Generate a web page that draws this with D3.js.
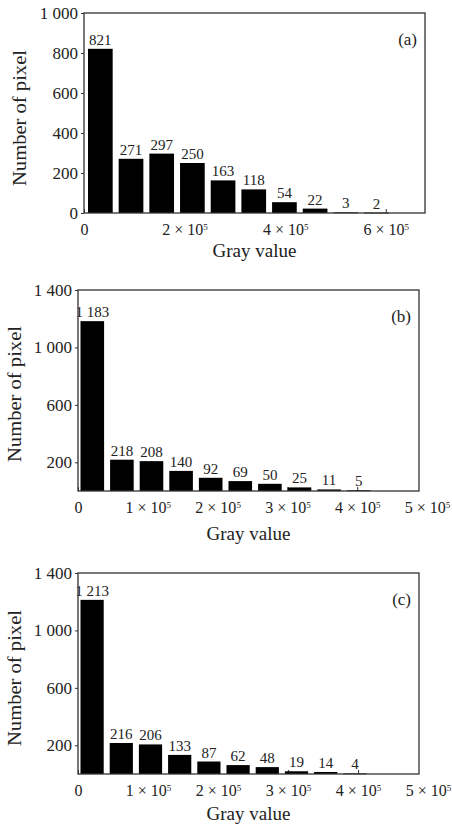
<!DOCTYPE html>
<html>
<head>
<meta charset="utf-8">
<script src="https://cdn.jsdelivr.net/npm/d3@7"></script>
<style>
  body { margin: 0; background: #fff; }
  svg { display: block; font-family: "Liberation Serif", "Times New Roman", serif; }
</style>
</head>
<body>
<svg id="chart" width="452" height="825"></svg>
<script>
// counts per gray-value bin
const countsA = [821, 271, 297, 250, 163, 118, 54, 22, 3, 2];
const countsB = [1183, 218, 208, 140, 92, 69, 50, 25, 11, 5];
const countsC = [1213, 216, 206, 133, 87, 62, 48, 19, 14, 4];
const panelNames = ["(a)", "(b)", "(c)"];
const yTicksA = [0, 200, 400, 600, 800, 1000];
const yTicksBC = [200, 600, 1000, 1400];
const xTicksA = [0, 2e5, 4e5, 6e5];
const xTicksBC = [0, 1e5, 2e5, 3e5, 4e5, 5e5];
const binWidths = [61000, 42400, 41700];
const yMaxes = [1000, 1400, 1400];
const xMaxes = [678000, 488500, 487000];

const svg = d3.select("svg#chart");
const fmt = d3.formatLocale({decimal: ".", thousands: " ", grouping: [3], currency: ["", ""]}).format(",d");

const panels = [
  {counts: countsA, yTicks: yTicksA, xTicks: xTicksA, left: 84, right: 425, top: 13, bottom: 213, pad: 4, yLabelX: 20, yLabelY: 118, xLabelY: 257},
  {counts: countsB, yTicks: yTicksBC, xTicks: xTicksBC, left: 78, right: 419, top: 290, bottom: 491, pad: 2.5, yLabelX: 15, yLabelY: 394, xLabelY: 540},
  {counts: countsC, yTicks: yTicksBC, xTicks: xTicksBC, left: 78, right: 419, top: 573, bottom: 774, pad: 2.5, yLabelX: 15, yLabelY: 678, xLabelY: 820}
];

panels.forEach((p, k) => {
  let width = p.right - p.left,
      height = p.bottom - p.top,
      bw = binWidths[k],
      x = d3.scaleLinear().domain([0, xMaxes[k]]).range([0, width]),
      y = d3.scaleLinear().domain([0, yMaxes[k]]).range([height, 0]);

  let g = svg.append("g")
      .attr("transform", "translate(" + p.left + "," + p.top + ")");

  // x axis, inward ticks, labels as a x 10^5
  let xa = g.append("g")
      .attr("transform", "translate(0," + height + ")")
      .call(d3.axisBottom(x).tickValues(p.xTicks).tickSize(-4).tickPadding(11))
      .attr("font-family", null)
      .attr("font-size", null);
  xa.select(".domain").remove();
  xa.selectAll("line")
      .attr("stroke", "#333")
      .attr("display", d => x(d) >= width - 1 ? "none" : null);
  xa.selectAll("text")
      .attr("font-size", 16)
      .attr("fill", "#222")
      .each(function(d) {
        let t = d3.select(this).text("");
        if (d === 0) { t.text("0"); return; }
        t.append("tspan").text((d / 1e5) + " \u00d7 10");
        t.append("tspan").attr("font-size", 9).attr("dy", "-0.55em").text("5");
      });

  // y axis
  let ya = g.append("g")
      .call(d3.axisLeft(y).tickValues(p.yTicks).tickSize(3).tickPadding(3).tickFormat(fmt))
      .attr("font-family", null)
      .attr("font-size", null);
  ya.select(".domain").remove();
  ya.selectAll("line").attr("stroke", "#333");
  ya.selectAll("text")
      .attr("font-size", 17)
      .attr("fill", "#222");

  // bars
  g.selectAll(".bar")
      .data(p.counts)
      .enter().append("rect")
      .attr("class", "bar")
      .attr("x", (d, i) => x(i * bw) + p.pad)
      .attr("width", x(bw) - x(0) - 6)
      .attr("y", d => y(d))
      .attr("height", d => Math.max(height - y(d), 0.8))
      .attr("fill", "#000");

  g.selectAll(".val")
      .data(p.counts)
      .enter().append("text")
      .attr("class", "val")
      .attr("x", (d, i) => x(i * bw) + p.pad + (x(bw) - x(0) - 6) / 2)
      .attr("y", d => y(d) - 4)
      .attr("text-anchor", "middle")
      .attr("font-size", 15)
      .attr("fill", "#222")
      .text(d => fmt(d));

  // frame
  g.append("rect")
      .attr("width", width)
      .attr("height", height)
      .attr("fill", "none")
      .attr("stroke", "#333")
      .attr("stroke-width", 1.3);

  g.append("text")
      .attr("x", width - 8)
      .attr("y", 32)
      .attr("text-anchor", "end")
      .attr("font-size", 17)
      .attr("fill", "#222")
      .text(panelNames[k]);

  svg.append("text")
      .attr("transform", "translate(" + (p.yLabelX + 6) + "," + p.yLabelY + ") rotate(-90)")
      .attr("text-anchor", "middle")
      .attr("font-size", 18)
      .attr("textLength", 136)
      .attr("lengthAdjust", "spacingAndGlyphs")
      .attr("fill", "#222")
      .text("Number of pixel");

  svg.append("text")
      .attr("x", p.left + width / 2)
      .attr("y", p.xLabelY)
      .attr("text-anchor", "middle")
      .attr("font-size", 19)
      .attr("fill", "#222")
      .text("Gray value");
});
</script>
</body>
</html>
